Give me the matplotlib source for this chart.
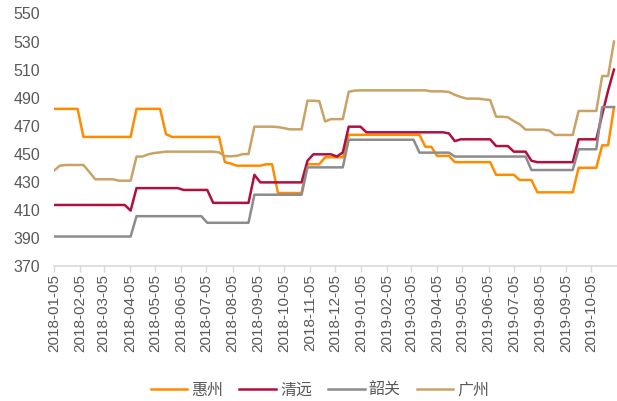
import matplotlib
matplotlib.use("Agg")
import matplotlib.pyplot as plt
import matplotlib.dates as mdates
import pandas as pd

plt.rcParams['font.family'] = ['Liberation Sans', 'Noto Sans CJK SC']

# weekly prices, 2018-01-05 .. 2019-11-01
dates = pd.date_range('2018-01-05', periods=96, freq='7D')

huizhou = [
    482, 482, 482, 482, 482, 462, 462, 462, 462, 462, 462, 462,
    462, 462, 482, 482, 482, 482, 482, 464, 462, 462, 462, 462,
    462, 462, 462, 462, 462, 444, 443, 441.5, 441.5, 441.5, 441.5, 441.5,
    442.5, 442.5, 422, 422, 422, 422, 422, 442.5, 442.5, 442.5, 447.5, 447.5,
    447.5, 447.5, 463.5, 463.5, 463.5, 463.5, 463.5, 463.5, 463.5, 463.5, 463.5, 463.5,
    463.5, 463.5, 463.5, 455, 455, 448.5, 448.5, 448.5, 444, 444, 444, 444,
    444, 444, 444, 435, 435, 435, 435, 431.3, 431.3, 431.3, 422.5, 422.5,
    422.5, 422.5, 422.5, 422.5, 422.5, 440, 440, 440, 440, 456, 456, 483,
]
qingyuan = [
    413.5, 413.5, 413.5, 413.5, 413.5, 413.5, 413.5, 413.5, 413.5, 413.5, 413.5, 413.5,
    413.5, 409.5, 425.5, 425.5, 425.5, 425.5, 425.5, 425.5, 425.5, 425.5, 424.2, 424.2,
    424.2, 424.2, 424.2, 415, 415, 415, 415, 415, 415, 415, 435, 429.6,
    429.6, 429.6, 429.6, 429.6, 429.6, 429.6, 429.6, 445, 449.6, 449.6, 449.6, 449.6,
    448, 451, 469.3, 469.3, 469.3, 465.3, 465.3, 465.3, 465.3, 465.3, 465.3, 465.3,
    465.3, 465.3, 465.3, 465.3, 465.3, 465.3, 465.3, 464.5, 459, 460.3, 460.3, 460.3,
    460.3, 460.3, 460.3, 455.5, 455.5, 455.5, 451.5, 451.5, 451.5, 445, 444, 444,
    444, 444, 444, 444, 444, 460.3, 460.3, 460.3, 460.3, 478, 495, 510,
]
shaoguan = [
    391, 391, 391, 391, 391, 391, 391, 391, 391, 391, 391, 391,
    391, 391, 405.5, 405.5, 405.5, 405.5, 405.5, 405.5, 405.5, 405.5, 405.5, 405.5,
    405.5, 405.5, 400.8, 400.8, 400.8, 400.8, 400.8, 400.8, 400.8, 400.8, 420.8, 420.8,
    420.8, 420.8, 420.8, 420.8, 420.8, 420.8, 420.8, 440.3, 440.3, 440.3, 440.3, 440.3,
    440.3, 440.3, 460, 460, 460, 460, 460, 460, 460, 460, 460, 460,
    460, 460, 450.8, 450.8, 450.8, 450.8, 450.8, 450.8, 448, 448, 448, 448,
    448, 448, 448, 448, 448, 448, 448, 448, 448, 438.4, 438.4, 438.4,
    438.4, 438.4, 438.4, 438.4, 438.4, 453.2, 453.2, 453.2, 453.2, 483.3, 483.3, 483.3,
]
guangzhou = [
    438, 441.5, 442, 442, 442, 442, 437, 431.8, 431.8, 431.8, 431.8, 430.8,
    430.8, 430.8, 448, 448, 449.6, 450.5, 451, 451.5, 451.5, 451.5, 451.5, 451.5,
    451.5, 451.5, 451.5, 451.5, 451, 448.2, 448.2, 448.5, 449.7, 449.8, 469.3, 469.3,
    469.3, 469.3, 469, 468.3, 467.4, 467.4, 467.4, 487.8, 487.8, 487.5, 473, 474.7,
    474.7, 474.7, 494.2, 495, 495.2, 495.2, 495.2, 495.2, 495.2, 495.2, 495.2, 495.2,
    495.2, 495.2, 495.2, 495.2, 494.5, 494.5, 494.5, 494, 492, 490.5, 489.3, 489.3,
    489.3, 488.7, 488.3, 476.4, 476.4, 476, 473.3, 471, 467.2, 467.2, 467.2, 467.2,
    466.5, 463.4, 463.4, 463.4, 463.4, 480.5, 480.5, 480.5, 480.5, 505.4, 505.4, 530,
]

names = ['惠州', '清远', '韶关', '广州']
colors = ['#FF8C00', '#B01040', '#8C8C8C', '#C9A366']
series = [huizhou, qingyuan, shaoguan, guangzhou]

fig = plt.figure(figsize=(6.17, 4.01), dpi=100)
ax = fig.add_axes([0.0875, 0.3367, 0.9117, 0.6297])

for name, col, vals in zip(names, colors, series):
    ax.plot(dates, vals, color=col, lw=1.8, label=name)

ax.set_ylim(370, 550)
ax.set_yticks(range(370, 551, 20))
ticks = pd.date_range('2018-01-05', '2019-10-05', freq=pd.DateOffset(months=1))
ax.set_xticks(ticks)
ax.xaxis.set_major_formatter(mdates.DateFormatter('%Y-%m-%d'))
ax.set_xlim(pd.Timestamp('2018-01-05'), pd.Timestamp('2019-11-04'))

for s in ['top', 'right', 'left']:
    ax.spines[s].set_visible(False)
ax.spines['bottom'].set_color('#D9D9D9')
ax.spines['bottom'].set_linewidth(1.2)

ax.tick_params(axis='y', length=0, pad=10, labelsize=11.5, labelcolor='#595959')
ax.tick_params(axis='x', length=4, color='#D9D9D9', width=1, pad=2,
               labelsize=11, labelcolor='#595959', labelrotation=90)

fig.legend(loc='center', bbox_to_anchor=(320 / 617, 1 - 390 / 401), ncol=4,
           frameon=False, fontsize=11.5, handlelength=2.3, handletextpad=0.25,
           columnspacing=1.0, labelcolor='#595959')

fig.savefig('out.png', dpi=100)
